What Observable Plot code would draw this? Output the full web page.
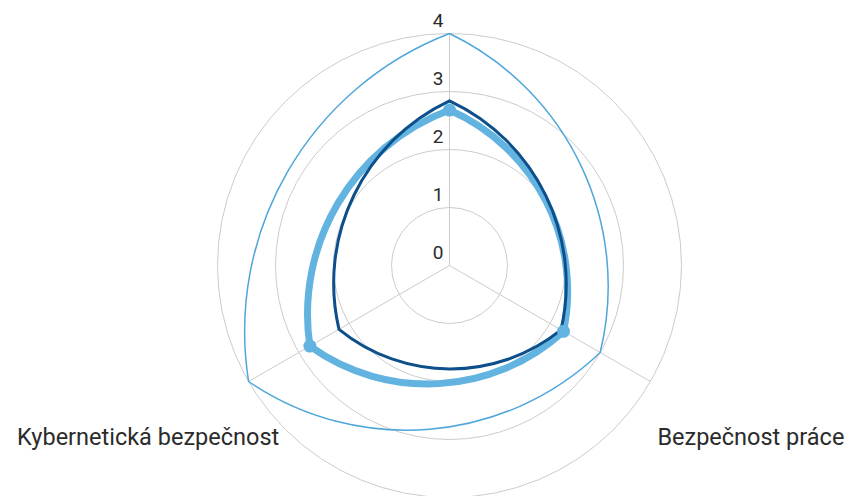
<!DOCTYPE html>
<html>
<head>
<meta charset="utf-8">
<script src="https://cdn.jsdelivr.net/npm/d3@7"></script>
<script src="https://cdn.jsdelivr.net/npm/@observablehq/plot@0.6"></script>
<style>
  html, body { margin: 0; padding: 0; background: #fff; }
  #chart { width: 858px; height: 496px; overflow: hidden; }
</style>
</head>
<body>
<div id="chart"></div>
<script>
// ---- data ----
const categories = ["", "Bezpečnost práce", "Kybernetická bezpečnost"]; // top label lies outside the visible area
const seriesTarget = [4, 3, 4];        // thin line
const seriesDark   = [2.84, 2.22, 2.2]; // dark blue line
const seriesLight  = [2.68, 2.27, 2.78]; // thick light blue line with markers
const ringValues = [1, 2, 3, 4];
const tickLabels = [0, 1, 2, 3, 4];

// ---- layout ----
const W = 858, H = 496;
const cx = 449, cy = 265, unit = 58;
const colors = { target: "#4ea6da", dark: "#0d4f8b", light: "#62b3e0" };

const angle = i => i * 2 * Math.PI / categories.length;
const px = (v, i) => v * Math.sin(angle(i));
const py = (v, i) => v * Math.cos(angle(i));
const rows = vals => vals.map((v, i) => ({i, v, cat: categories[i]}));

// closed curve: each edge an outward-bulging arc-like cubic
function radarCurve(context) {
  let pts = [];
  const beta = 39 * Math.PI / 180, k = 0.375;
  return {
    areaStart() {}, areaEnd() {},
    lineStart() { pts = []; },
    point(x, y) { pts.push([+x, +y]); },
    lineEnd() {
      const n = pts.length;
      if (!n) return;
      context.moveTo(pts[0][0], pts[0][1]);
      for (let j = 0; j < n; j++) {
        const A = pts[j], B = pts[(j + 1) % n];
        const dx = B[0] - A[0], dy = B[1] - A[1];
        const L = Math.hypot(dx, dy);
        if (!L) continue;
        const ux = dx / L, uy = dy / L;
        let nx = -uy, ny = ux;
        const mx = (A[0] + B[0]) / 2 - cx, my = (A[1] + B[1]) / 2 - cy;
        if (nx * mx + ny * my < 0) { nx = -nx; ny = -ny; }
        const cb = Math.cos(beta), sb = Math.sin(beta);
        const t1 = [cb * ux + sb * nx, cb * uy + sb * ny];
        const t2 = [cb * ux - sb * nx, cb * uy - sb * ny];
        context.bezierCurveTo(
          A[0] + k * L * t1[0], A[1] + k * L * t1[1],
          B[0] - k * L * t2[0], B[1] - k * L * t2[1],
          B[0], B[1]
        );
      }
      context.closePath();
    }
  };
}

const lineOpts = (color, width) => ({
  x: d => px(d.v, d.i), y: d => py(d.v, d.i),
  stroke: color, strokeWidth: width, curve: radarCurve, strokeLinejoin: "round"
});

const chart = Plot.plot({
  width: W, height: H, margin: 0,
  x: {domain: [-4, 4], range: [cx - 4 * unit, cx + 4 * unit], axis: null},
  y: {domain: [-4, 4], range: [cy + 4 * unit, cy - 4 * unit], axis: null},
  r: {type: "linear", domain: [0, 4], range: [0, 4 * unit]},
  style: {fontFamily: "Roboto, 'Noto Sans', sans-serif", background: "#fff", overflow: "hidden"},
  marks: [
    Plot.dot(ringValues, {x: 0, y: 0, r: d => d, stroke: "#cccccc", strokeWidth: 1, fill: "none"}),
    Plot.link(categories.map((c, i) => i), {
      x1: 0, y1: 0, x2: i => px(4, i), y2: i => py(4, i), stroke: "#cccccc", strokeWidth: 1
    }),
    Plot.text(tickLabels, {
      x: 0, y: d => d, text: d => String(d), textAnchor: "end",
      dx: -6, dy: -12.5, fontSize: 19, fill: "#2b2b2b"
    }),
    Plot.text(categories.map((c, i) => ({c, i})).filter(d => d.c), {
      x: d => px(6, d.i), y: d => py(6, d.i), text: d => d.c,
      textAnchor: "middle", fontSize: 23.5, dy: -2, fill: "#2b2b2b"
    }),
    Plot.line(rows(seriesTarget), lineOpts(colors.target, 1.5)),
    Plot.line(rows(seriesLight), lineOpts(colors.light, 7)),
    Plot.line(rows(seriesDark), lineOpts(colors.dark, 3)),
    Plot.dot(rows(seriesLight), {x: d => px(d.v, d.i), y: d => py(d.v, d.i), r: 6.5, fill: colors.light})
  ]
});
document.getElementById("chart").appendChild(chart);
</script>
</body>
</html>
